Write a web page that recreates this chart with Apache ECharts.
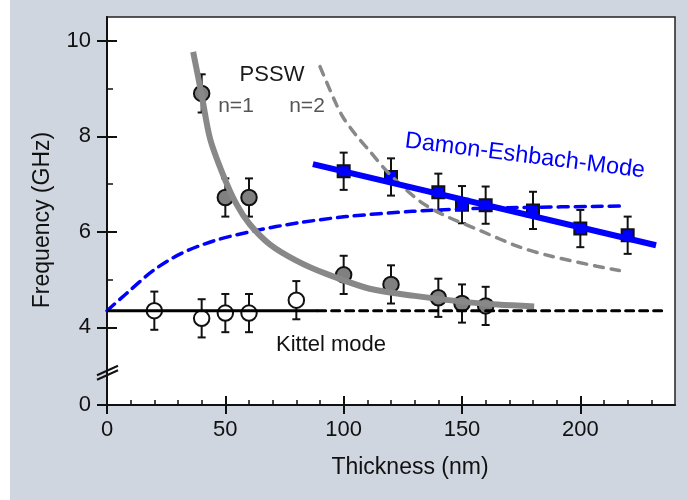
<!DOCTYPE html>
<html>
<head>
<meta charset="utf-8">
<script src="https://cdn.jsdelivr.net/npm/echarts@6/dist/echarts.min.js"></script>
<style>
  html, body { margin: 0; padding: 0; }
  #chart { width: 688px; height: 500px; background: linear-gradient(to right, #ffffff 10px, #cfd6e0 10px); }
</style>
</head>
<body>
<div id="chart"></div>
<script>
// measured points (thickness nm, frequency GHz, error)
const psswX = [40, 50, 60, 100, 120, 140, 150, 160];
const psswY = [8.9, 6.72, 6.72, 5.1, 4.9, 4.62, 4.5, 4.45];
const psswErr = [0.4, 0.4, 0.4, 0.4, 0.4, 0.4, 0.4, 0.4];

const kittelX = [20, 40, 50, 60, 80];
const kittelY = [4.35, 4.19, 4.3, 4.3, 4.57];
const kittelErr = [0.4, 0.4, 0.4, 0.4, 0.4];

const deX = [100, 120, 140, 150, 160, 180, 200, 220];
const deY = [7.27, 7.15, 6.83, 6.57, 6.56, 6.45, 6.07, 5.93];
const deErr = [0.39, 0.39, 0.39, 0.39, 0.39, 0.39, 0.39, 0.39];

// theory curves
const psswN1Curve = [[36.4, 9.77], [40, 8.87], [43.5, 7.96], [49, 7.2], [54.7, 6.58], [60.3, 6.16],
  [68.8, 5.74], [80, 5.4], [92.7, 5.12], [111, 4.81], [130, 4.66], [150, 4.54], [165, 4.48], [180.5, 4.44]];
const psswN2Curve = [[90, 9.46], [97, 8.66], [100, 8.38], [105, 8.04], [111, 7.69], [119, 7.23],
  [132, 6.65], [142, 6.36], [158, 6.02], [174.5, 5.68], [187, 5.5], [207, 5.28], [216.5, 5.19]];
const deThinCurve = [[0, 4.35], [8, 4.7], [19.5, 5.19], [31, 5.54], [45, 5.81], [62, 6.02], [81, 6.19],
  [101, 6.32], [129, 6.43], [150, 6.48], [173, 6.51], [217, 6.54]];
const deFitLine = [[87, 7.42], [232, 5.72]];
const kittelSolid = [[0, 4.35], [89, 4.35]];
const kittelDashed = [[89, 4.35], [236, 4.35]];

// axis ticks (y axis is broken: the "0" tick sits just below the break)
const yZero = 2.375;
const yMajor = [yZero, 4, 6, 8, 10];
const yMinor = [5, 7, 9];
const xMajor = [0, 50, 100, 150, 200];
const xMinor = [10, 20, 30, 40, 60, 70, 80, 90, 110, 120, 130, 140, 160, 170, 180, 190, 210, 220, 230];

const FONT = "'Liberation Sans', Arial, sans-serif";

const chart = echarts.init(document.getElementById('chart'));

const withErr = (xs, ys, es) => xs.map((x, i) => [x, ys[i] - es[i], ys[i] + es[i]]);
const pairs = (xs, ys) => xs.map((x, i) => [x, ys[i]]);

const errorBarItem = (params, api) => {
    const x = api.value(0);
    const lo = api.coord([x, api.value(1)]);
    const hi = api.coord([x, api.value(2)]);
    const cap = 4;
    const st = { stroke: '#111', lineWidth: 2 };
    return {
        type: 'group',
        children: [
            { type: 'line', shape: { x1: hi[0], y1: hi[1], x2: lo[0], y2: lo[1] }, style: st },
            { type: 'line', shape: { x1: hi[0] - cap, y1: hi[1], x2: hi[0] + cap, y2: hi[1] }, style: st },
            { type: 'line', shape: { x1: lo[0] - cap, y1: lo[1], x2: lo[0] + cap, y2: lo[1] }, style: st }
        ]
    };
};

const xBase = { type: 'value', min: 0, max: 240, position: 'bottom', splitLine: { show: false } };
const yBase = { type: 'value', min: yZero, max: 10.5, position: 'left', splitLine: { show: false } };

const lineSeries = (data, color, width, dash, smooth) => ({
    type: 'line',
    data: data,
    showSymbol: false,
    smooth: smooth ? 0.3 : false,
    silent: true,
    lineStyle: { color: color, width: width, type: dash || 'solid', cap: dash ? 'round' : 'butt' }
});

const errSeries = (data) => ({
    type: 'custom',
    renderItem: errorBarItem,
    encode: { x: 0, y: [1, 2] },
    data: data,
    silent: true
});

const option = {
    animation: false,
    backgroundColor: 'transparent',
    grid: {
        left: 107, right: 13, top: 17, bottom: 95,
        show: true, backgroundColor: '#ffffff', borderColor: '#222', borderWidth: 1.5
    },
    xAxis: [
        Object.assign({}, xBase, {
            axisLine: { lineStyle: { color: '#111', width: 2 } },
            axisTick: { inside: false, length: 9, customValues: xMajor, lineStyle: { color: '#111', width: 2 } },
            axisLabel: { customValues: xMajor, margin: 14, fontSize: 22, color: '#111', fontFamily: FONT }
        }),
        Object.assign({}, xBase, {
            axisLine: { show: false },
            axisTick: { inside: true, length: 9, customValues: xMajor, lineStyle: { color: '#111', width: 2 } },
            axisLabel: { show: false }
        }),
        Object.assign({}, xBase, {
            axisLine: { show: false },
            axisTick: { inside: true, length: 5, customValues: xMinor, lineStyle: { color: '#111', width: 1.5 } },
            axisLabel: { show: false }
        })
    ],
    yAxis: [
        Object.assign({}, yBase, {
            axisLine: { lineStyle: { color: '#111', width: 2 } },
            axisTick: { inside: false, length: 10, customValues: yMajor, lineStyle: { color: '#111', width: 2 } },
            axisLabel: {
                customValues: yMajor, margin: 16, fontSize: 22, color: '#111', fontFamily: FONT,
                formatter: (v) => (v < 3 ? '0' : String(v))
            }
        }),
        Object.assign({}, yBase, {
            axisLine: { show: false },
            axisTick: { inside: true, length: 10, customValues: [4, 6, 8, 10], lineStyle: { color: '#111', width: 2 } },
            axisLabel: { show: false }
        }),
        Object.assign({}, yBase, {
            axisLine: { show: false },
            axisTick: { inside: true, length: 6, customValues: yMinor, lineStyle: { color: '#111', width: 1.5 } },
            axisLabel: { show: false }
        })
    ],
    series: [
        lineSeries(deThinCurve, '#0000ff', 3.5, [10, 7], true),
        lineSeries(psswN2Curve, '#888888', 3.5, [9, 8], true),
        lineSeries(psswN1Curve, '#888888', 6, null, true),
        lineSeries(deFitLine, '#0000ff', 6, null, false),
        lineSeries(kittelSolid, '#000000', 3, null, false),
        lineSeries(kittelDashed, '#000000', 3, [8, 6], false),
        errSeries(withErr(psswX, psswY, psswErr)),
        errSeries(withErr(kittelX, kittelY, kittelErr)),
        errSeries(withErr(deX, deY, deErr)),
        {
            type: 'scatter', data: pairs(psswX, psswY), symbol: 'circle', symbolSize: 15.5,
            itemStyle: { color: '#808080', borderColor: '#111', borderWidth: 2, opacity: 1 }
        },
        {
            type: 'scatter', data: pairs(kittelX, kittelY), symbol: 'circle', symbolSize: 15.5,
            itemStyle: { color: '#ffffff', borderColor: '#111', borderWidth: 2, opacity: 1 }
        },
        {
            type: 'scatter', data: pairs(deX, deY), symbol: 'rect', symbolSize: 12,
            itemStyle: { color: '#0000ff', borderColor: '#111', borderWidth: 2, opacity: 1 }
        }
    ]
};

chart.setOption(option);

// axis titles, annotations and the break mark on the y axis
const axisX = chart.convertToPixel({ xAxisIndex: 0 }, 0);
const breakY = chart.convertToPixel({ yAxisIndex: 0 }, 3.05);
const txt = (x, y, text, color, size, extra) => Object.assign({
    type: 'text', x: x, y: y, z: 100,
    style: { text: text, fill: color, font: size + 'px ' + FONT, align: 'center', verticalAlign: 'middle' }
}, extra || {});

chart.setOption({
    graphic: [
        txt(410, 468, 'Thickness (nm)', '#111', 23),
        txt(43, 220, 'Frequency (GHz)', '#111', 23, { rotation: Math.PI / 2 }),
        txt(272, 75, 'PSSW', '#1a1a1a', 22),
        txt(236, 106, 'n=1', '#555555', 21),
        txt(307, 106, 'n=2', '#555555', 21),
        txt(331, 345, 'Kittel mode', '#111', 22),
        txt(525, 156, 'Damon-Eshbach-Mode', '#0000ff', 23.5, { rotation: -0.125 }),
        {
            type: 'line', z: 100,
            shape: { x1: axisX - 10, y1: breakY + 2.5, x2: axisX + 11, y2: breakY - 7 },
            style: { stroke: '#111', lineWidth: 2 }
        },
        {
            type: 'line', z: 100,
            shape: { x1: axisX - 10, y1: breakY + 7, x2: axisX + 11, y2: breakY - 2.5 },
            style: { stroke: '#111', lineWidth: 2 }
        }
    ]
});
</script>
</body>
</html>
